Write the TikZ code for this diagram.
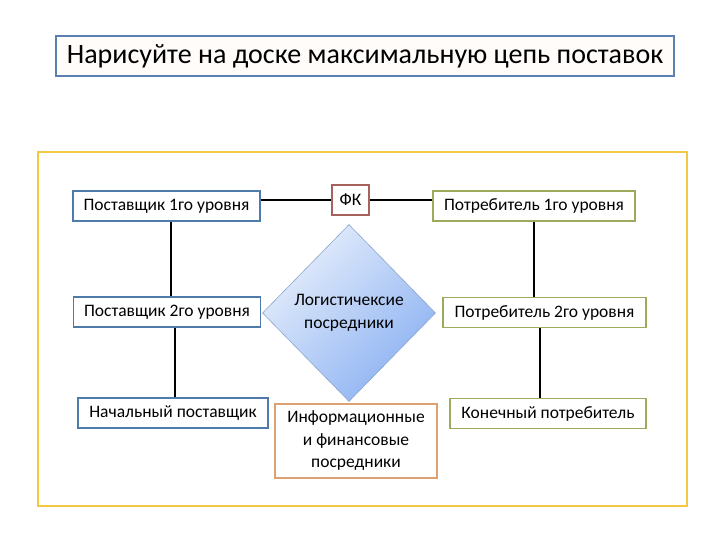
\documentclass[tikz,border=0pt]{standalone}
\usepackage{fontspec}
\setmainfont{Carlito}
\usetikzlibrary{shapes.geometric}
\definecolor{titleLine}{HTML}{5B7FAE}
\definecolor{frameGold}{HTML}{F2C744}
\definecolor{supLine}{HTML}{4F7BAA}
\definecolor{fkLine}{HTML}{A8625E}
\definecolor{conLine}{HTML}{9DAA5C}
\definecolor{infoLine}{HTML}{DDA070}
\definecolor{diaLight}{HTML}{E6EEFB}
\definecolor{diaDark}{HTML}{8CB2F2}
\definecolor{diaLine}{HTML}{8CA6CC}
\begin{document}
\begin{tikzpicture}[
    x=1pt,y=-1pt,
    supBlock/.style={rectangle,draw=supLine,line width=1.2pt,fill=white,minimum height=30pt,inner sep=2pt,font=\fontsize{17.5}{20}\selectfont},
    conBlock/.style={rectangle,draw=conLine,line width=1.2pt,fill=white,minimum height=30pt,inner sep=2pt,font=\fontsize{17.5}{20}\selectfont},
    fkBlock/.style={rectangle,draw=fkLine,line width=1.2pt,fill=white,minimum width=37pt,minimum height=30pt,inner sep=1pt,font=\fontsize{17.5}{20}\selectfont},
    infoBlock/.style={rectangle,draw=infoLine,line width=1.2pt,fill=white,minimum width=162pt,minimum height=74pt,inner sep=1pt,align=center,font=\fontsize{17.5}{22.5}\selectfont},
    logDiamond/.style={diamond,draw=diaLine,line width=0.6pt,minimum width=173pt,minimum height=177pt,inner sep=0pt,align=center,font=\fontsize{17.5}{23}\selectfont},
    chainLine/.style={draw=black,line width=1.6pt},
]
\useasboundingbox (0,0) rectangle (720,540);
% === title ===
\node[rectangle,draw=titleLine,line width=1.2pt,fill=orange!2,minimum width=618pt,minimum height=40pt,font=\fontsize{28}{32}\selectfont] (TITLE) at (365,56) {Нарисуйте на доске максимальную цепь поставок};
% === frame ===
\draw[frameGold,line width=2.2pt] (38,152) rectangle (687,506);
% === suppliers (left) ===
\node[supBlock,minimum width=187pt] (SUP1) at (166.5,206) {Поставщик 1го уровня};
\node[supBlock,minimum width=187pt] (SUP2) at (167,312) {Поставщик 2го уровня};
\node[supBlock,minimum width=190pt] (SUP0) at (173,413) {Начальный поставщик};
% === middle ===
\node[fkBlock] (FK) at (350.5,200) {ФК};
\node[logDiamond,top color=diaLight,bottom color=diaDark,shading angle=45] (LOG) at (349,313) {Логистичексие\\посредники};
\node[infoBlock] (INFO) at (356,441) {Информационные\\и финансовые\\посредники};
% === consumers (right) ===
\node[conBlock,minimum width=202pt] (CON1) at (534,206) {Потребитель 1го уровня};
\node[conBlock,minimum width=203pt] (CON2) at (544.5,312.5) {Потребитель 2го уровня};
\node[conBlock,minimum width=196pt] (CON0) at (548,413.5) {Конечный потребитель};
% === links ===
\draw[chainLine] (SUP1.east |- FK.west) -- (FK.west);
\draw[chainLine] (FK.east) -- (CON1.west |- FK.east);
\draw[chainLine] ([xshift=4.5pt]SUP1.south) -- ([xshift=4pt]SUP2.north);
\draw[chainLine] ([xshift=8pt]SUP2.south) -- ([xshift=2pt]SUP0.north);
\draw[chainLine] (CON1.south) -- ([xshift=-10.5pt]CON2.north);
\draw[chainLine] ([xshift=-4.5pt]CON2.south) -- ([xshift=-8pt]CON0.north);
\end{tikzpicture}
\end{document}
